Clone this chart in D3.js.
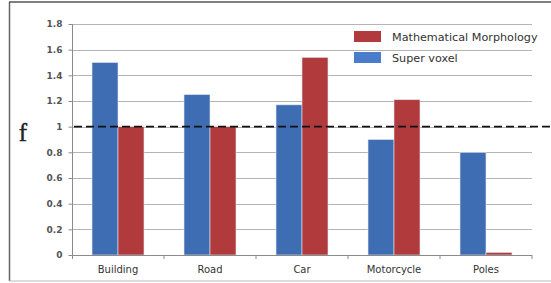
<!DOCTYPE html>
<html><head><meta charset="utf-8">
<script src="https://cdn.jsdelivr.net/npm/d3@7/dist/d3.min.js"></script>
<style>body{margin:0;background:#fff}svg{display:block}</style>
</head><body>
<svg id="c" width="551" height="283"></svg>
<script>
const categories = ["Building","Road","Car","Motorcycle","Poles"];
const seriesNames = ["Super voxel","Mathematical Morphology"];
const superVoxel = [1.50,1.25,1.17,0.90,0.80];
const mathMorph = [1.00,1.00,1.54,1.21,0.02];
const yTicks = [0,0.2,0.4,0.6,0.8,1,1.2,1.4,1.6,1.8];
const refLine = 1;
const colors = {"Super voxel":"#3f6db3","Mathematical Morphology":"#b03a3c"};
const legendColors = {"Super voxel":"#4a7ccc","Mathematical Morphology":"#b03a3c"};

const svg = d3.select("#c");
const L=72,R=532,T=24,B=255;
const x = d3.scaleBand().domain(categories).range([L,R]).paddingInner(0).paddingOuter(0);
const x1 = d3.scaleBand().domain(seriesNames).range([0,x.bandwidth()]).paddingInner(0).paddingOuter(0.77);
const y = d3.scaleLinear().domain([0,1.8]).range([B,T]);
const font = "DejaVu Sans, Verdana, sans-serif";

// frame
svg.append("line").attr("x1",9.5).attr("x2",9.5).attr("y1",2).attr("y2",281).attr("stroke","#666").attr("stroke-width",1.5);
svg.append("line").attr("x1",9).attr("x2",551).attr("y1",2).attr("y2",2).attr("stroke","#555").attr("stroke-width",1.5);
svg.append("line").attr("x1",9).attr("x2",551).attr("y1",281).attr("y2",281).attr("stroke","#bbb").attr("stroke-width",1);

// gridlines
svg.append("g").selectAll("line").data(yTicks.slice(1)).join("line")
  .attr("x1",L).attr("x2",R).attr("y1",d=>Math.round(y(d))+0.5).attr("y2",d=>Math.round(y(d))+0.5)
  .attr("stroke","#b4b4b4").attr("stroke-width",1);

// y axis
const ya = svg.append("g").attr("transform",`translate(${L+0.5},0)`)
  .call(d3.axisLeft(y).tickValues(yTicks).tickSize(4).tickFormat(d=>String(d)));
ya.select(".domain").attr("stroke","#8a8a8a").attr("d",`M-0,${B}V${T}`);
ya.selectAll(".tick line").attr("stroke","#8a8a8a");
ya.selectAll(".tick text").attr("font-family",font).attr("font-size",9).attr("font-weight","bold").attr("fill","#555").attr("x",-10);

// bars
const g = svg.append("g");
categories.forEach((c,i)=>{
  const vals = {"Super voxel":superVoxel[i],"Mathematical Morphology":mathMorph[i]};
  seriesNames.forEach(s=>{
    g.append("rect").attr("x",x(c)+x1(s)).attr("width",x1.bandwidth())
      .attr("y",y(vals[s])).attr("height",B-y(vals[s]))
      .attr("fill",colors[s]).attr("stroke","#dfe6f0").attr("stroke-width",0.6);
  });
});

// x axis
const xa = svg.append("g").attr("transform",`translate(0,${B+0.5})`)
  .call(d3.axisBottom(x).tickSize(0));
xa.select(".domain").attr("stroke","#8a8a8a").attr("d",`M${L},0H${R}`);
xa.selectAll(".tick text").attr("font-family",font).attr("font-size",10).attr("fill","#333").attr("dy","1.45em");
svg.append("g").selectAll("line").data(categories).join("line")
  .attr("x1",d=>x(d)+x.bandwidth()).attr("x2",d=>x(d)+x.bandwidth())
  .attr("y1",B).attr("y2",B+4).attr("stroke","#8a8a8a");
svg.append("line").attr("x1",L+0.5).attr("x2",L+0.5).attr("y1",B).attr("y2",B+4).attr("stroke","#8a8a8a");

// reference dashed line
svg.append("line").attr("x1",L+2).attr("x2",551).attr("y1",y(refLine)).attr("y2",y(refLine))
  .attr("stroke","#111").attr("stroke-width",1.6).attr("stroke-dasharray","8,4");

// f label
svg.append("text").attr("x",23).attr("y",141).attr("text-anchor","middle")
  .attr("font-family","Liberation Serif, DejaVu Serif, serif").attr("font-size",25).attr("fill","#222")
  .attr("stroke","#222").attr("stroke-width",0.4).text("f");

// legend
const legendOrder = ["Mathematical Morphology","Super voxel"];
const lg = svg.append("g");
legendOrder.forEach((s,i)=>{
  const yy = 31 + i*21;
  lg.append("rect").attr("x",354).attr("y",yy).attr("width",27).attr("height",11).attr("fill",legendColors[s]);
  lg.append("text").attr("x",392).attr("y",yy+9.5).attr("font-family",font)
    .attr("font-size",11.2).attr("fill","#333").text(s);
});
</script>
</body></html>
